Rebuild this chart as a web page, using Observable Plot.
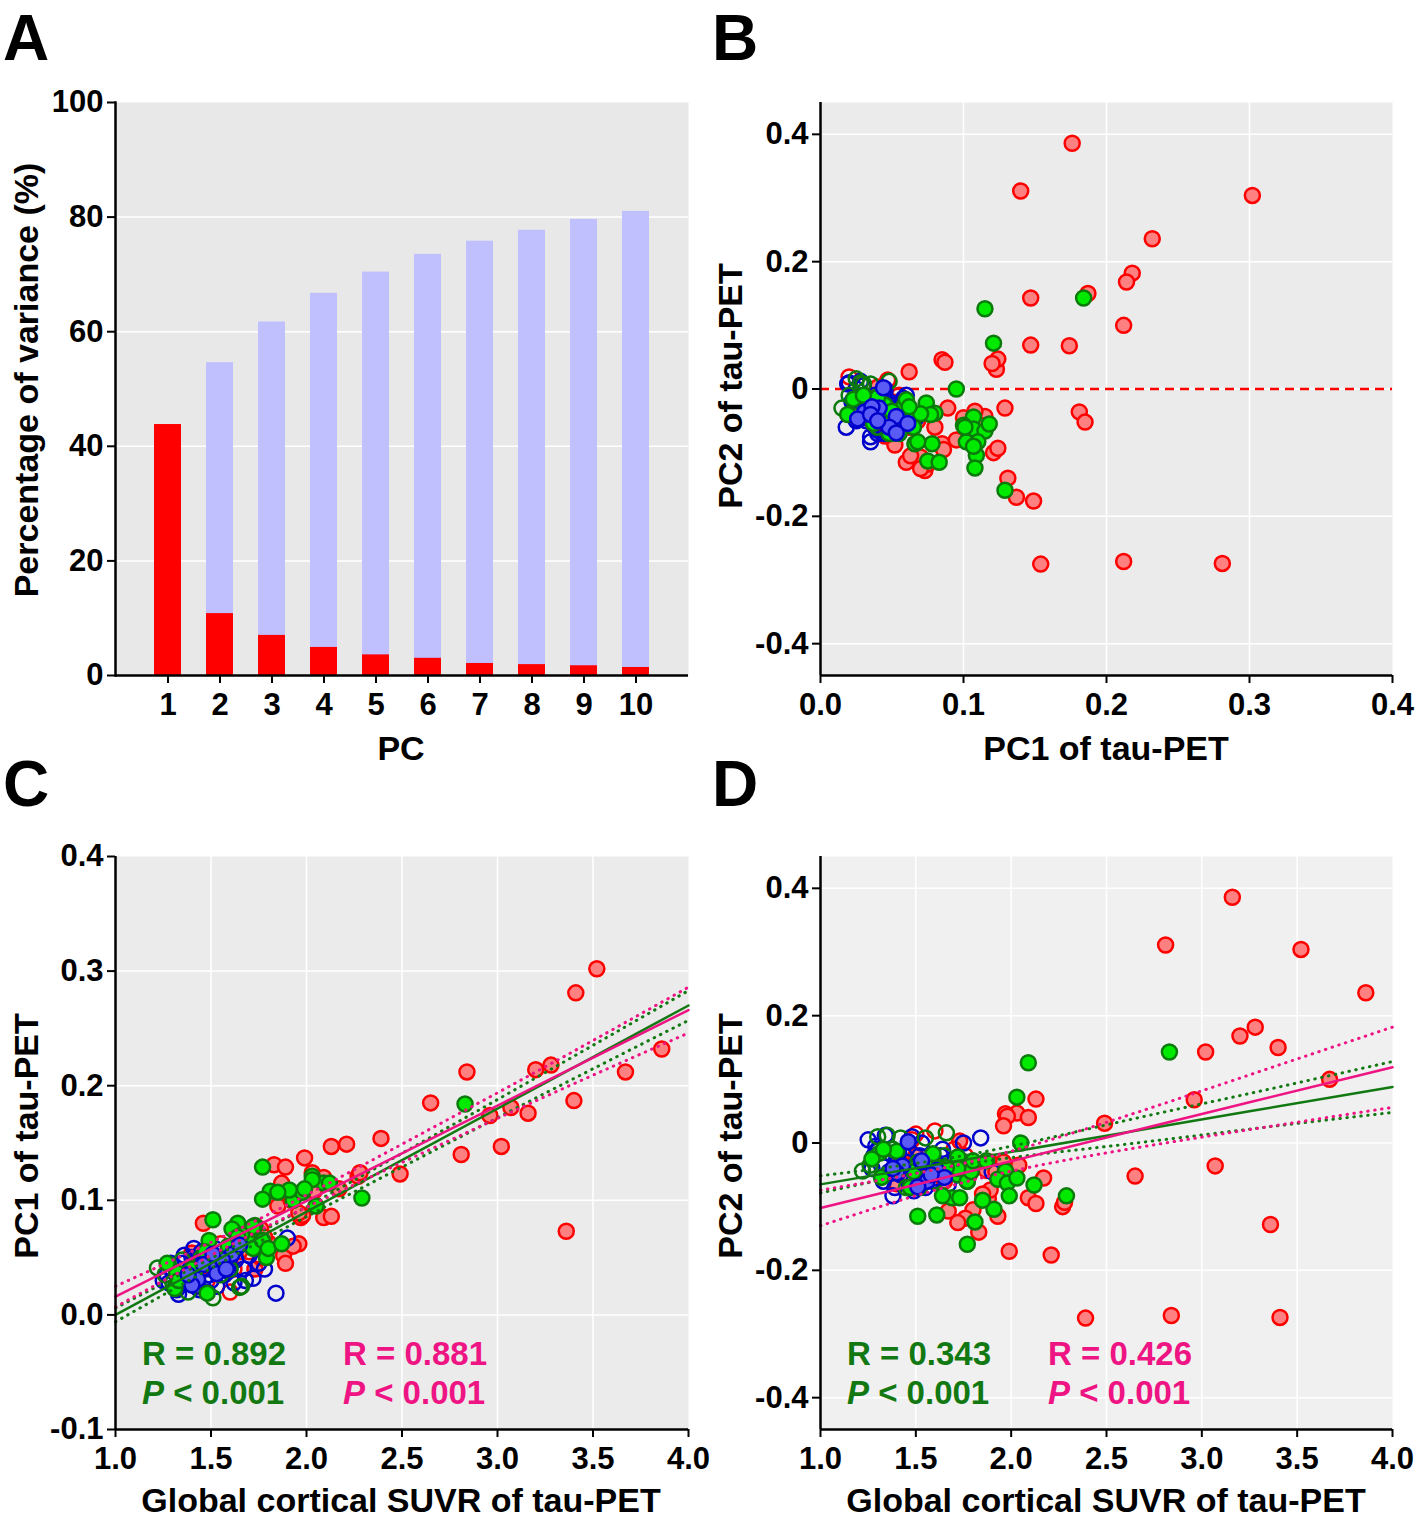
<!DOCTYPE html>
<html><head><meta charset="utf-8">
<script src="https://cdn.jsdelivr.net/npm/d3@7"></script>
<script src="https://cdn.jsdelivr.net/npm/@observablehq/plot@0.6"></script>
<style>
body{margin:0;background:#fff;}
#wrap{position:relative;width:1418px;height:1518px;overflow:hidden;font-family:"Liberation Sans",Arial,sans-serif;}
.panel{position:absolute;}
#overlay{position:absolute;left:0;top:0;pointer-events:none;}
</style></head><body><div id="wrap"></div>
<script>
// ---------- Panel A data ----------
const pcLabels = [1, 2, 3, 4, 5, 6, 7, 8, 9, 10];
const individualVar = [43.8, 10.8, 7.0, 4.9, 3.6, 3.0, 2.1, 1.9, 1.7, 1.4];
const cumulativeVar = [43.8, 54.6, 61.7, 66.7, 70.4, 73.5, 75.8, 77.7, 79.6, 81.0];
const yTicksA = [0, 20, 40, 60, 80, 100];

// ---------- subjects: [global SUVR, PC1, PC2] ----------
const redFilled = [
  [3.16,0.176,0.386],[2.81,0.140,0.311],[3.52,0.302,0.304],[3.86,0.232,0.236],
  [3.28,0.218,0.182],[3.20,0.214,0.168],[3.40,0.187,0.150],[3.02,0.147,0.143],
  [3.67,0.212,0.100],[2.96,0.174,0.068],[2.13,0.147,0.069],[3.07,0.181,-0.036],
  [2.65,0.185,-0.052],[2.21,0.149,-0.176],[2.39,0.154,-0.275],[2.84,0.212,-0.271],
  [3.41,0.281,-0.274],[3.36,0.073,-0.128],[2.49,0.123,0.031],[1.99,0.137,-0.170],
  [1.83,0.131,-0.140],[2.03,0.124,0.047],[2.09,0.120,0.040],[1.97,0.085,0.046],
  [1.98,0.087,0.042],[1.89,0.129,-0.030],[1.87,0.115,-0.043],[2.27,0.121,-0.100],
  [2.28,0.124,-0.093],[1.96,0.062,0.027],[1.96,0.089,-0.030],[2.09,0.085,-0.086],
  [2.13,0.086,-0.095],[2.17,0.110,-0.055],[1.88,0.052,-0.088],[1.89,0.045,-0.074],
  [1.93,0.060,-0.115],[1.67,0.070,-0.107],[1.40,0.054,-0.064],[1.80,0.063,-0.105],
  [1.76,0.075,-0.118],[1.72,0.070,-0.125],[1.73,0.040,0.003],[1.60,0.045,-0.040],
  [1.46,0.080,-0.060],[1.50,0.040,-0.020],[1.65,0.055,-0.060],[1.78,0.068,-0.050],
  [1.85,0.095,-0.080],[1.92,0.100,-0.045],[2.04,0.108,-0.035]
];
const redOpen = [
  [1.50,0.047,0.014],[1.60,0.020,0.019],[1.48,0.030,0.005],[1.70,0.055,-0.010],
  [1.62,0.040,-0.045],[1.76,0.050,-0.020],[1.42,0.025,-0.030],[1.55,0.062,-0.060]
];
const greenFilled = [
  [2.83,0.184,0.143],[2.09,0.115,0.126],[2.03,0.121,0.072],[2.05,0.095,0.000],
  [1.97,0.107,-0.044],[1.93,0.100,-0.057],[1.98,0.107,-0.063],[2.12,0.115,-0.066],
  [2.03,0.118,-0.055],[2.29,0.102,-0.083],[1.99,0.110,-0.083],[1.91,0.109,-0.104],
  [1.81,0.108,-0.124],[1.77,0.129,-0.159],[1.85,0.107,-0.090],[1.77,0.101,-0.060],
  [1.72,0.074,-0.022],[1.64,0.080,-0.038],[1.69,0.066,-0.086],[1.73,0.078,-0.086],
  [1.61,0.075,-0.113],[1.51,0.083,-0.115],[1.31,0.023,-0.016],[1.32,0.037,-0.054],
  [1.27,0.045,-0.025],[1.48,0.019,-0.040],[1.49,0.065,-0.045],[1.72,0.058,-0.050],
  [1.77,0.065,-0.060],[1.79,0.050,-0.045],[1.80,0.058,-0.028],[1.72,0.077,-0.040],
  [1.55,0.050,-0.035],[1.40,0.040,-0.013],[1.33,0.030,-0.010],[1.59,0.060,-0.017],
  [1.66,0.070,-0.039],[1.87,0.062,-0.028],[1.47,0.055,-0.070],[1.52,0.048,-0.070],
  [1.64,0.068,-0.083]
];
const greenOpen = [
  [1.22,0.041,-0.044],[1.65,0.024,-0.020],[1.51,0.015,-0.030],[1.42,0.030,0.008],
  [1.55,0.035,0.008],[1.66,0.025,0.016],[1.30,0.028,0.010],[1.38,0.020,-0.010],
  [1.60,0.040,-0.060],[1.45,0.050,-0.070],[1.26,0.035,-0.035],[1.35,0.048,0.012]
];
const blueOpen = [
  [1.25,0.030,0.005],[1.28,0.028,-0.020],[1.30,0.038,-0.010],[1.32,0.022,-0.035],
  [1.35,0.045,-0.015],[1.38,0.035,-0.083],[1.40,0.050,-0.025],[1.42,0.025,-0.050],
  [1.45,0.055,-0.030],[1.47,0.040,-0.060],[1.50,0.030,-0.045],[1.52,0.058,-0.020],
  [1.55,0.045,-0.070],[1.57,0.035,-0.040],[1.60,0.050,-0.055],[1.62,0.028,-0.035],
  [1.64,0.060,-0.010],[1.67,0.040,-0.065],[1.70,0.052,-0.030],[1.72,0.032,-0.050],
  [1.75,0.045,0.000],[1.84,0.019,0.008],[1.90,0.067,-0.045],[1.33,0.018,-0.060],
  [1.48,0.020,0.010],[1.27,0.035,-0.040],[1.29,0.045,-0.005],[1.34,0.028,0.012],
  [1.36,0.052,-0.045],[1.39,0.040,-0.070],[1.41,0.058,-0.015],[1.44,0.022,-0.020],
  [1.46,0.048,-0.050],[1.49,0.035,-0.075],[1.53,0.025,0.000],[1.56,0.055,-0.035],
  [1.59,0.038,-0.060],[1.63,0.048,-0.020],[1.68,0.030,-0.045],[1.78,0.040,-0.035]
];
const blueFilled = [
  [1.46,0.044,0.002],[1.43,0.031,-0.036],[1.53,0.041,-0.030],[1.40,0.026,-0.047],
  [1.61,0.053,-0.043],[1.65,0.061,-0.054],[1.56,0.048,-0.060],[1.51,0.053,-0.069],
  [1.53,0.036,-0.028],[1.38,0.035,-0.040],[1.58,0.040,-0.050]
];

// ---------- regression fits ----------
const fitX = [1, 1.75, 2.5, 3.25, 4];
const cGreenFit = [0.000, 0.0675, 0.135, 0.2025, 0.270];
const cGreenLo  = [-0.006, 0.0635, 0.129, 0.1935, 0.257];
const cGreenHi  = [0.006, 0.0715, 0.141, 0.2115, 0.283];
const cPinkFit  = [0.016, 0.0785, 0.141, 0.2035, 0.266];
const cPinkLo   = [0.007, 0.0735, 0.133, 0.1905, 0.246];
const cPinkHi   = [0.025, 0.0835, 0.149, 0.2165, 0.286];
const dGreenFit = [-0.065, -0.0268, 0.0115, 0.0498, 0.088];
const dGreenLo  = [-0.0785, -0.0338, -0.0055, 0.0218, 0.048];
const dGreenHi  = [-0.0515, -0.0198, 0.0285, 0.0778, 0.128];
const dPinkFit  = [-0.102, -0.047, 0.0085, 0.064, 0.119];
const dPinkLo   = [-0.130, -0.062, -0.0155, 0.021, 0.056];
const dPinkHi   = [-0.074, -0.032, 0.0325, 0.107, 0.182];

const statsC = [{r:"0.892", p:"0.001", color:"#127812"}, {r:"0.881", p:"0.001", color:"#ee1483"}];
const statsD = [{r:"0.343", p:"0.001", color:"#127812"}, {r:"0.426", p:"0.001", color:"#ee1483"}];

// ---------- style ----------
const FONT = '"Liberation Sans", Arial, Helvetica, sans-serif';
const baseStyle = {fontFamily: FONT, fontSize: "31px", fontWeight: "bold", color: "black", background: "transparent", overflow: "visible"};
const wrap = document.getElementById("wrap");
function place(svg, left, top) {
  const d = document.createElement("div");
  d.className = "panel"; d.style.left = left + "px"; d.style.top = top + "px";
  d.appendChild(svg); wrap.appendChild(d);
}
const fmt1 = d => d.toFixed(1);
const fmtB = d => d === 0 ? "0" : d.toFixed(1);
const axX = {tickSize: 8, tickPadding: 9, strokeWidth: 2, label: null};
const axY = {tickSize: 8, tickPadding: 4, strokeWidth: 2, label: null};

// ---------- Panel A ----------
const barData = pcLabels.map((pc, i) => ({pc, ind: individualVar[i], cum: cumulativeVar[i]}));
const plotA = Plot.plot({
  width: 709, height: 720,
  marginLeft: 115, marginRight: 21, marginTop: 42, marginBottom: 105,
  style: baseStyle,
  x: {type: "band", domain: pcLabels, paddingInner: 0.48, paddingOuter: 0.74, label: null},
  y: {domain: [0, 100], label: null},
  marks: [
    Plot.frame({fill: "#e8e8e8"}),
    Plot.gridY([20, 40, 60, 80], {stroke: "white", strokeOpacity: 1, strokeWidth: 1.5}),
    Plot.barY(barData, {x: "pc", y: "cum", fill: "#c0c0ff"}),
    Plot.barY(barData, {x: "pc", y: "ind", fill: "#ff0000"}),
    Plot.axisX({...axX}),
    Plot.axisY(yTicksA, {...axY}),
    Plot.ruleY([0], {strokeWidth: 2.5}),
    Plot.frame({anchor: "left", strokeWidth: 2.5})
  ]
});
place(plotA, 0, 60);

// ---------- scatter panels ----------
function dotLayers(ix, iy) {
  const X = d => d[ix], Y = d => d[iy];
  return [
    Plot.dot(redFilled, {x: X, y: Y, r: 7.5, fill: "#ff8080", stroke: "#ff0000", strokeWidth: 2.5}),
    Plot.dot(redOpen, {x: X, y: Y, r: 7.5, fill: "none", stroke: "#ff0000", strokeWidth: 2.5}),
    Plot.dot(blueOpen, {x: X, y: Y, r: 7.5, fill: "none", stroke: "#0000cc", strokeWidth: 2.5}),
    Plot.dot(greenOpen, {x: X, y: Y, r: 7.5, fill: "none", stroke: "#0a7a0a", strokeWidth: 2.5}),
    Plot.dot(greenFilled, {x: X, y: Y, r: 7.5, fill: "#00ea00", stroke: "#0a7a0a", strokeWidth: 2.5}),
    Plot.dot(blueFilled, {x: X, y: Y, r: 7.5, fill: "#5a5af5", stroke: "#0000cc", strokeWidth: 2.5})
  ];
}
function fitLayers(fit, lo, hi, color) {
  const mk = arr => fitX.map((x, i) => ({x, y: arr[i]}));
  return [
    Plot.line(mk(lo), {x: "x", y: "y", stroke: color, strokeWidth: 3, strokeDasharray: "0.5,6.5", strokeLinecap: "round", curve: "natural"}),
    Plot.line(mk(hi), {x: "x", y: "y", stroke: color, strokeWidth: 3, strokeDasharray: "0.5,6.5", strokeLinecap: "round", curve: "natural"}),
    Plot.line(mk(fit), {x: "x", y: "y", stroke: color, strokeWidth: 2.5})
  ];
}
function scatter({width, height, mRight, bg, xDomain, yDomain, xTicks, yTicks, xGrid, yGrid, xFmt, yFmt, ix, iy, under = [], over = []}) {
  return Plot.plot({
    width, height,
    marginLeft: 115, marginRight: mRight, marginTop: 42, marginBottom: height - 42 - 573,
    style: baseStyle,
    x: {domain: xDomain, label: null},
    y: {domain: yDomain, label: null},
    marks: [
      Plot.frame({fill: bg}),
      Plot.gridX(xGrid, {stroke: "white", strokeOpacity: 1, strokeWidth: 1.5}),
      Plot.gridY(yGrid, {stroke: "white", strokeOpacity: 1, strokeWidth: 1.5}),
      ...under,
      ...dotLayers(ix, iy),
      ...over,
      Plot.axisX(xTicks, {...axX, tickFormat: xFmt}),
      Plot.axisY(yTicks, {...axY, tickFormat: yFmt}),
      Plot.ruleX([xDomain[0]], {strokeWidth: 2.5}),
      Plot.ruleY([yDomain[0]], {strokeWidth: 2.5})
    ]
  });
}

const plotB = scatter({
  width: 713, height: 720, mRight: 26, bg: "#ebebeb",
  xDomain: [0, 0.4], yDomain: [-0.45, 0.45],
  xTicks: [0, 0.1, 0.2, 0.3, 0.4], yTicks: [-0.4, -0.2, 0, 0.2, 0.4],
  xGrid: [0.1, 0.2, 0.3], yGrid: [-0.4, -0.2, 0, 0.2, 0.4],
  xFmt: fmt1, yFmt: fmtB, ix: 1, iy: 2,
  under: [Plot.ruleY([0], {stroke: "#ff0000", strokeWidth: 2.5, strokeDasharray: "9,6"})]
});
place(plotB, 705, 60);

const plotC = scatter({
  width: 709, height: 704, mRight: 21, bg: "#ebebeb",
  xDomain: [1, 4], yDomain: [-0.1, 0.4],
  xTicks: [1, 1.5, 2, 2.5, 3, 3.5, 4], yTicks: [-0.1, 0, 0.1, 0.2, 0.3, 0.4],
  xGrid: [1.5, 2, 2.5, 3, 3.5], yGrid: [0, 0.1, 0.2, 0.3],
  xFmt: fmt1, yFmt: fmt1, ix: 0, iy: 1,
  over: [...fitLayers(cGreenFit, cGreenLo, cGreenHi, "#127812"), ...fitLayers(cPinkFit, cPinkLo, cPinkHi, "#ee1483")]
});
place(plotC, 0, 814);

const plotD = scatter({
  width: 713, height: 704, mRight: 26, bg: "#f0f0f0",
  xDomain: [1, 4], yDomain: [-0.45, 0.45],
  xTicks: [1, 1.5, 2, 2.5, 3, 3.5, 4], yTicks: [-0.4, -0.2, 0, 0.2, 0.4],
  xGrid: [1.5, 2, 2.5, 3, 3.5], yGrid: [-0.4, -0.2, 0, 0.2, 0.4],
  xFmt: fmt1, yFmt: fmtB, ix: 0, iy: 2,
  over: [...fitLayers(dGreenFit, dGreenLo, dGreenHi, "#127812"), ...fitLayers(dPinkFit, dPinkLo, dPinkHi, "#ee1483")]
});
place(plotD, 705, 814);

// ---------- overlay text ----------
const NS = "http://www.w3.org/2000/svg";
const ov = document.createElementNS(NS, "svg");
ov.setAttribute("id", "overlay"); ov.setAttribute("width", 1418); ov.setAttribute("height", 1518);
ov.style.fontFamily = FONT; ov.style.fontWeight = "bold";
wrap.appendChild(ov);
function txt(x, y, str, size, opts = {}) {
  const t = document.createElementNS(NS, "text");
  t.setAttribute("x", x); t.setAttribute("y", y);
  t.setAttribute("font-size", size);
  t.setAttribute("text-anchor", opts.anchor || "start");
  t.setAttribute("fill", opts.fill || "black");
  if (opts.rotate) t.setAttribute("transform", `rotate(-90 ${x} ${y})`);
  t.textContent = str;
  ov.appendChild(t); return t;
}
txt(3, 60, "A", 64); txt(712, 60, "B", 64); txt(3, 806, "C", 64); txt(712, 806, "D", 64);
txt(401, 760, "PC", 34, {anchor: "middle"});
txt(1106, 760, "PC1 of tau-PET", 34, {anchor: "middle"});
txt(401, 1512, "Global cortical SUVR of tau-PET", 34, {anchor: "middle"});
txt(1106, 1512, "Global cortical SUVR of tau-PET", 34, {anchor: "middle"});
txt(38, 380, "Percentage of variance (%)", 34, {anchor: "middle", rotate: true});
txt(742, 386, "PC2 of tau-PET", 34, {anchor: "middle", rotate: true});
txt(38, 1136, "PC1 of tau-PET", 34, {anchor: "middle", rotate: true});
txt(742, 1136, "PC2 of tau-PET", 34, {anchor: "middle", rotate: true});

function stats(list, x0s) {
  list.forEach((s, i) => {
    txt(x0s[i], 1365, "R = " + s.r, 33, {fill: s.color});
    const t = txt(x0s[i], 1404, "", 33, {fill: s.color});
    const a = document.createElementNS(NS, "tspan"); a.setAttribute("font-style", "italic"); a.textContent = "P";
    const b = document.createElementNS(NS, "tspan"); b.textContent = " < " + s.p;
    t.appendChild(a); t.appendChild(b);
  });
}
stats(statsC, [142, 343]);
stats(statsD, [847, 1048]);
</script>
</body></html>
